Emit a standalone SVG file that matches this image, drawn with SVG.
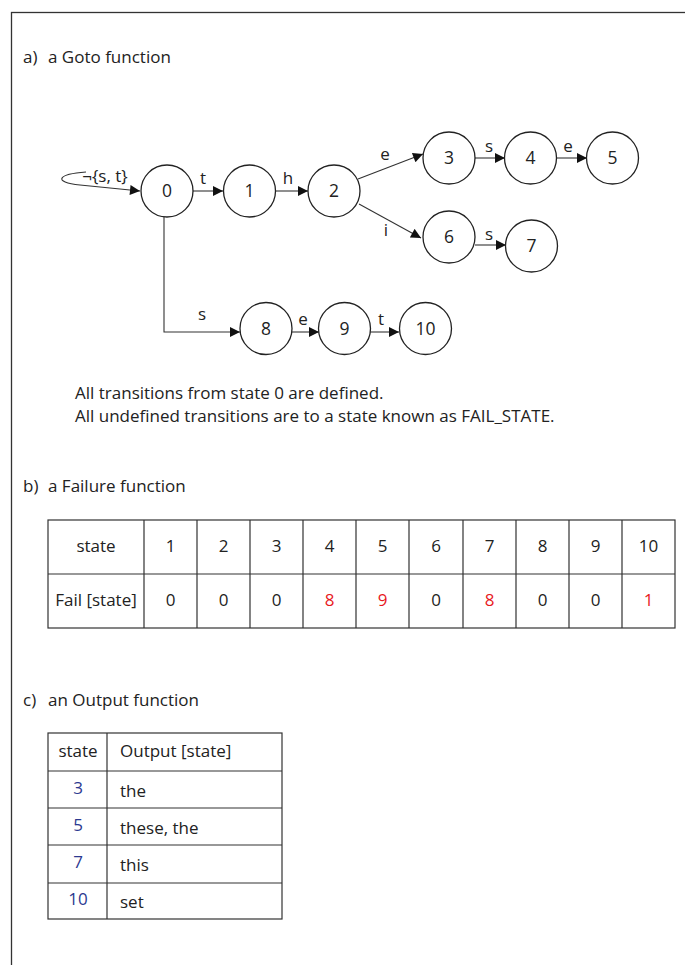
<svg xmlns="http://www.w3.org/2000/svg" width="685" height="965" viewBox="0 0 685 965">
<style>
text{font-family:"Open Sans","Liberation Sans",Arial,sans-serif;fill:#222;font-size:17px}
.c{text-anchor:middle}
.n circle{fill:#fff;stroke:#222;stroke-width:1.3}
.n text{text-anchor:middle;font-size:17.5px}
.e{fill:none;stroke:#333;stroke-width:1.1}
.l{font-size:17px;text-anchor:middle}
.t{fill:none;stroke:#333;stroke-width:1.2}
.r{fill:#e8191d}
.b{fill:#2b3990}
</style>
<defs>
<marker id="ah" viewBox="0 0 10 10" refX="10" refY="5" markerWidth="11" markerHeight="10" markerUnits="userSpaceOnUse" orient="auto">
<path d="M0,0 L10,5 L0,10 z" fill="#111"/>
</marker>
</defs>
<rect x="11.5" y="12.5" width="700" height="1000" fill="#fff" stroke="#333" stroke-width="1.3"/>
<text x="23" y="63">a)<tspan x="48">a Goto function</tspan></text>

<g id="connectors">
<path class="e" d="M86,172 C58,174 52,182 80,185 C100,187 120,189 140,191" marker-end="url(#ah)"/>
<text class="l" x="105" y="182">¬{s, t}</text>
<line class="e" x1="193" y1="191" x2="223" y2="191" marker-end="url(#ah)"/>
<text class="l" x="203" y="184">t</text>
<line class="e" x1="276" y1="191" x2="308" y2="191" marker-end="url(#ah)"/>
<text class="l" x="288" y="184">h</text>
<line class="e" x1="358" y1="179" x2="423" y2="154" marker-end="url(#ah)"/>
<text class="l" x="385" y="160">e</text>
<line class="e" x1="359" y1="204" x2="421" y2="238" marker-end="url(#ah)"/>
<text class="l" x="386" y="236">i</text>
<line class="e" x1="475" y1="158" x2="505" y2="158" marker-end="url(#ah)"/>
<text class="l" x="489" y="152">s</text>
<line class="e" x1="556" y1="158" x2="587" y2="158" marker-end="url(#ah)"/>
<text class="l" x="568" y="152">e</text>
<line class="e" x1="475" y1="245" x2="506" y2="245" marker-end="url(#ah)"/>
<text class="l" x="489" y="240">s</text>
<path class="e" d="M164,217 V332 H240" marker-end="url(#ah)"/>
<text class="l" x="202" y="320">s</text>
<line class="e" x1="292" y1="332" x2="319" y2="332" marker-end="url(#ah)"/>
<text class="l" x="303" y="325">e</text>
<line class="e" x1="370" y1="332" x2="399" y2="332" marker-end="url(#ah)"/>
<text class="l" x="381" y="325">t</text>
</g>

<g id="n0" class="n"><circle cx="167" cy="191" r="26"/><text x="167" y="197">0</text></g>
<g id="n1" class="n"><circle cx="249.5" cy="191" r="26"/><text x="249.5" y="197">1</text></g>
<g id="n2" class="n"><circle cx="334" cy="191" r="26"/><text x="334" y="197">2</text></g>
<g id="n3" class="n"><circle cx="449" cy="158" r="26"/><text x="449" y="164">3</text></g>
<g id="n4" class="n"><circle cx="530.5" cy="158" r="26"/><text x="530.5" y="164">4</text></g>
<g id="n5" class="n"><circle cx="612.5" cy="158" r="26"/><text x="612.5" y="164">5</text></g>
<g id="n6" class="n"><circle cx="449" cy="237" r="26"/><text x="449" y="243">6</text></g>
<g id="n7" class="n"><circle cx="531.5" cy="246" r="26"/><text x="531.5" y="252">7</text></g>
<g id="n8" class="n"><circle cx="266" cy="328.5" r="26"/><text x="266" y="334.5">8</text></g>
<g id="n9" class="n"><circle cx="344.5" cy="328.5" r="26"/><text x="344.5" y="334.5">9</text></g>
<g id="n10" class="n"><circle cx="425.5" cy="328.5" r="26"/><text x="425.5" y="334.5">10</text></g>

<text x="75" y="399">All transitions from state 0 are defined.</text>
<text x="75" y="422">All undefined transitions are to a state known as FAIL_STATE.</text>

<text x="23" y="492">b)<tspan x="48">a Failure function</tspan></text>
<g id="failure-table">
<rect class="t" x="48" y="520" width="627" height="108"/>
<line class="t" x1="48" y1="574" x2="675" y2="574"/>
<path class="t" d="M144,520V628 M197,520V628 M250,520V628 M303,520V628 M356,520V628 M409,520V628 M463,520V628 M516,520V628 M569,520V628 M622,520V628"/>
<text class="c" x="96" y="552">state</text>
<text class="c" x="170.5" y="552">1</text>
<text class="c" x="223.5" y="552">2</text>
<text class="c" x="276.5" y="552">3</text>
<text class="c" x="329.5" y="552">4</text>
<text class="c" x="382.5" y="552">5</text>
<text class="c" x="436" y="552">6</text>
<text class="c" x="489.5" y="552">7</text>
<text class="c" x="542.5" y="552">8</text>
<text class="c" x="595.5" y="552">9</text>
<text class="c" x="648.5" y="552">10</text>
<text class="c" x="96" y="606">Fail [state]</text>
<text class="c" x="170.5" y="606">0</text>
<text class="c" x="223.5" y="606">0</text>
<text class="c" x="276.5" y="606">0</text>
<text class="c r" x="329.5" y="606">8</text>
<text class="c r" x="382.5" y="606">9</text>
<text class="c" x="436" y="606">0</text>
<text class="c r" x="489.5" y="606">8</text>
<text class="c" x="542.5" y="606">0</text>
<text class="c" x="595.5" y="606">0</text>
<text class="c r" x="648.5" y="606">1</text>
</g>

<text x="23" y="706">c)<tspan x="48">an Output function</tspan></text>
<g id="output-table">
<rect class="t" x="48" y="733" width="234" height="186"/>
<line class="t" x1="107" y1="733" x2="107" y2="919"/>
<path class="t" d="M48,771H282 M48,808H282 M48,845H282 M48,883H282"/>
<text class="c" x="78" y="757">state</text>
<text x="120" y="757">Output [state]</text>
<text class="c b" x="78" y="794">3</text>
<text x="120" y="797">the</text>
<text class="c b" x="78" y="831">5</text>
<text x="120" y="834">these, the</text>
<text class="c b" x="78" y="868">7</text>
<text x="120" y="871">this</text>
<text class="c b" x="78" y="905">10</text>
<text x="120" y="908">set</text>
</g>
</svg>
